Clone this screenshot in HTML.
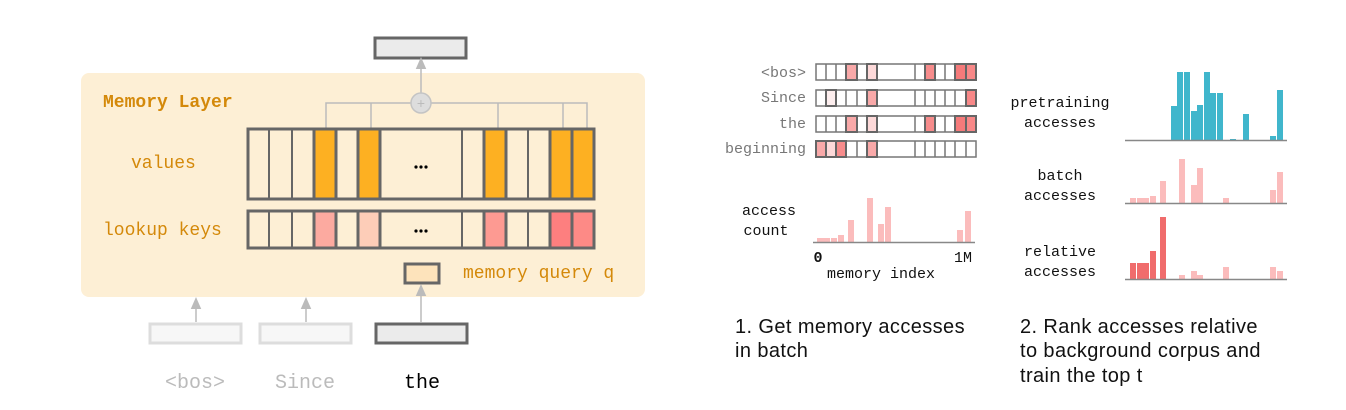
<!DOCTYPE html>
<html><head><meta charset="utf-8"><style>
html,body{margin:0;padding:0;background:#fff;width:1346px;height:410px;overflow:hidden}
svg text{font-family:"Liberation Mono","DejaVu Sans Mono",monospace}
.cap{font-family:"Liberation Sans",sans-serif!important;font-size:20px;letter-spacing:0.4px;fill:#111}
</style></head><body>
<svg width="1346" height="410" viewBox="0 0 1346 410" xmlns="http://www.w3.org/2000/svg">
<defs><marker id="ar" markerWidth="8" markerHeight="8" refX="4" refY="4" orient="auto"><path d="M0,0.5 L8,4 L0,7.5 z" fill="#bbb"/></marker></defs>
<rect x="81" y="73" width="564" height="224" rx="8" fill="#fdefd5"/>
<text x="103" y="107" font-size="18" font-weight="bold" fill="#d4890a">Memory Layer</text>
<text x="131" y="168" font-size="18" fill="#d4890a">values</text>
<text x="103" y="235" font-size="18" fill="#d4890a">lookup keys</text>
<text x="463" y="278" font-size="18" fill="#d4890a">memory query q</text>
<rect x="375" y="38" width="91" height="20" fill="#ebebeb" stroke="#666" stroke-width="3"/>
<line x1="421" y1="93" x2="421" y2="63" stroke="#bbb" stroke-width="1.5" marker-end="url(#ar)"/>
<g stroke="#bbb" stroke-width="1.5" fill="none">
<polyline points="326,129 326,103 587,103 587,129"/>
<line x1="371" y1="103" x2="371" y2="129"/>
<line x1="498" y1="103" x2="498" y2="129"/>
<line x1="563" y1="103" x2="563" y2="129"/>
</g>
<circle cx="421" cy="103" r="10" fill="#ddd" stroke="#c4c4c4" stroke-width="1.5"/>
<text x="421" y="108" font-size="14" fill="#bbb" text-anchor="middle">+</text>
<g stroke="#666" stroke-width="2">
<rect x="248" y="129" width="346" height="70" fill="none" stroke-width="3"/>
<rect x="314" y="129" width="22" height="70" fill="#fdb022" stroke-width="3"/>
<rect x="358" y="129" width="22" height="70" fill="#fdb022" stroke-width="3"/>
<rect x="484" y="129" width="22" height="70" fill="#fdb022" stroke-width="3"/>
<rect x="550" y="129" width="22" height="70" fill="#fdb022" stroke-width="3"/>
<rect x="572" y="129" width="22" height="70" fill="#fdb022" stroke-width="3"/>
<line x1="269" y1="129" x2="269" y2="199"/><line x1="292" y1="129" x2="292" y2="199"/>
<line x1="462" y1="129" x2="462" y2="199"/><line x1="528" y1="129" x2="528" y2="199"/>
</g>
<g fill="#000"><circle cx="416" cy="167" r="1.6"/><circle cx="421" cy="167" r="1.6"/><circle cx="426" cy="167" r="1.6"/>
<circle cx="416" cy="231" r="1.6"/><circle cx="421" cy="231" r="1.6"/><circle cx="426" cy="231" r="1.6"/></g>
<g stroke="#666" stroke-width="2">
<rect x="248" y="211" width="346" height="37" fill="none" stroke-width="3"/>
<rect x="314" y="211" width="22" height="37" fill="#fcaaa0" stroke-width="3"/>
<rect x="358" y="211" width="22" height="37" fill="#fdcdb8" stroke-width="3"/>
<rect x="484" y="211" width="22" height="37" fill="#fd9a92" stroke-width="3"/>
<rect x="550" y="211" width="22" height="37" fill="#fd7f7f" stroke-width="3"/>
<rect x="572" y="211" width="22" height="37" fill="#fd8a86" stroke-width="3"/>
<line x1="269" y1="211" x2="269" y2="248"/><line x1="292" y1="211" x2="292" y2="248"/>
<line x1="462" y1="211" x2="462" y2="248"/><line x1="528" y1="211" x2="528" y2="248"/>
</g>
<rect x="405" y="264" width="34" height="19" fill="#fde3bb" stroke="#666" stroke-width="3"/>
<line x1="421" y1="322" x2="421" y2="290" stroke="#bbb" stroke-width="1.5" marker-end="url(#ar)"/>
<line x1="196" y1="322" x2="196" y2="303" stroke="#bbb" stroke-width="1.5" marker-end="url(#ar)"/>
<line x1="306" y1="322" x2="306" y2="303" stroke="#bbb" stroke-width="1.5" marker-end="url(#ar)"/>
<rect x="150" y="324" width="91" height="19" fill="#f7f7f7" stroke="#ddd" stroke-width="3"/>
<rect x="260" y="324" width="91" height="19" fill="#f7f7f7" stroke="#ddd" stroke-width="3"/>
<rect x="376" y="324" width="91" height="19" fill="#ebebeb" stroke="#666" stroke-width="3"/>
<text x="195" y="388" font-size="20" fill="#bbb" text-anchor="middle">&lt;bos&gt;</text>
<text x="305" y="388" font-size="20" fill="#bbb" text-anchor="middle">Since</text>
<text x="422" y="388" font-size="20" fill="#000" text-anchor="middle">the</text>
<g font-size="15" fill="#777" text-anchor="end">
<text x="806" y="77">&lt;bos&gt;</text><text x="806" y="102">Since</text><text x="806" y="128">the</text><text x="806" y="153">beginning</text>
</g>
<g stroke="#777" stroke-width="1.5" fill="none">
<rect x="816" y="64" width="160" height="16"/><rect x="816" y="90" width="160" height="16"/><rect x="816" y="116" width="160" height="16"/><rect x="816" y="141" width="160" height="16"/>
<path d="M826,64v16M836,64v16M846,64v16M857,64v16M867,64v16M877,64v16M915,64v16M925,64v16M935,64v16M945,64v16M955,64v16M966,64v16"/>
<path d="M826,90v16M836,90v16M846,90v16M857,90v16M867,90v16M877,90v16M915,90v16M925,90v16M935,90v16M945,90v16M955,90v16M966,90v16"/>
<path d="M826,116v16M836,116v16M846,116v16M857,116v16M867,116v16M877,116v16M915,116v16M925,116v16M935,116v16M945,116v16M955,116v16M966,116v16"/>
<path d="M826,141v16M836,141v16M846,141v16M857,141v16M867,141v16M877,141v16M915,141v16M925,141v16M935,141v16M945,141v16M955,141v16M966,141v16"/>
</g>
<g stroke="#666" stroke-width="2">
<rect x="846" y="64" width="11" height="16" fill="#f9a9a9"/><rect x="867" y="64" width="10" height="16" fill="#fdd9d9"/><rect x="925" y="64" width="10" height="16" fill="#f78c8c"/><rect x="955" y="64" width="11" height="16" fill="#f57a7a"/><rect x="966" y="64" width="10" height="16" fill="#f88888"/>
<rect x="826" y="90" width="10" height="16" fill="#fdeeee"/><rect x="867" y="90" width="10" height="16" fill="#f9a9a9"/><rect x="966" y="90" width="10" height="16" fill="#f88888"/>
<rect x="846" y="116" width="11" height="16" fill="#f9a9a9"/><rect x="867" y="116" width="10" height="16" fill="#fdd9d9"/><rect x="925" y="116" width="10" height="16" fill="#f78c8c"/><rect x="955" y="116" width="11" height="16" fill="#f57a7a"/><rect x="966" y="116" width="10" height="16" fill="#f88888"/>
<rect x="816" y="141" width="10" height="16" fill="#f9a9a9"/><rect x="826" y="141" width="10" height="16" fill="#fdd9d9"/><rect x="836" y="141" width="10" height="16" fill="#f78c8c"/><rect x="867" y="141" width="10" height="16" fill="#f9a9a9"/>
</g>
<g fill="#fbbcbc">
<rect x="817" y="238" width="13" height="4"/><rect x="831" y="238" width="6" height="4"/><rect x="838" y="235" width="6" height="7"/><rect x="848" y="220" width="6" height="22"/><rect x="867" y="198" width="6" height="44"/><rect x="878" y="224" width="6" height="18"/><rect x="885" y="207" width="6" height="35"/><rect x="957" y="230" width="6" height="12"/><rect x="965" y="211" width="6" height="31"/>
</g>
<line x1="813" y1="242.5" x2="975" y2="242.5" stroke="#888" stroke-width="1.5"/>
<g font-size="15" fill="#111">
<text x="769" y="215" text-anchor="middle">access</text><text x="766" y="235" text-anchor="middle">count</text>
<text x="818" y="262" text-anchor="middle" font-weight="bold">0</text><text x="963" y="262" text-anchor="middle">1M</text>
<text x="881" y="278" text-anchor="middle">memory index</text>
</g>
<g fill="#40b6cc">
<rect x="1171" y="106" width="6" height="34"/><rect x="1177" y="72" width="6" height="68"/><rect x="1184" y="72" width="6" height="68"/><rect x="1191" y="111" width="6" height="29"/><rect x="1197" y="105" width="6" height="35"/><rect x="1204" y="72" width="6" height="68"/><rect x="1210" y="93" width="6" height="47"/><rect x="1217" y="93" width="6" height="47"/><rect x="1230" y="139" width="6" height="1"/><rect x="1243" y="114" width="6" height="26"/><rect x="1270" y="136" width="6" height="4"/><rect x="1277" y="90" width="6" height="50"/>
</g>
<g fill="#fbbcbc">
<rect x="1130" y="198" width="6" height="5"/><rect x="1137" y="198" width="12" height="5"/><rect x="1150" y="196" width="6" height="7"/><rect x="1160" y="181" width="6" height="22"/><rect x="1179" y="159" width="6" height="44"/><rect x="1191" y="185" width="6" height="18"/><rect x="1197" y="168" width="6" height="35"/><rect x="1223" y="198" width="6" height="5"/><rect x="1270" y="190" width="6" height="13"/><rect x="1277" y="172" width="6" height="31"/>
<rect x="1179" y="275" width="6" height="4"/><rect x="1191" y="271" width="6" height="8"/><rect x="1197" y="275" width="6" height="4"/><rect x="1223" y="267" width="6" height="12"/><rect x="1270" y="267" width="6" height="12"/><rect x="1277" y="271" width="6" height="8"/>
</g>
<g fill="#f06c6c">
<rect x="1130" y="263" width="6" height="16"/><rect x="1137" y="263" width="12" height="16"/><rect x="1150" y="251" width="6" height="28"/><rect x="1160" y="217" width="6" height="62"/>
</g>
<g stroke="#888" stroke-width="1.5">
<line x1="1125" y1="140.5" x2="1287" y2="140.5"/><line x1="1125" y1="203.5" x2="1287" y2="203.5"/><line x1="1125" y1="279.5" x2="1287" y2="279.5"/>
</g>
<g font-size="15" fill="#111" text-anchor="middle">
<text x="1060" y="107">pretraining</text><text x="1060" y="127">accesses</text>
<text x="1060" y="180">batch</text><text x="1060" y="200">accesses</text>
<text x="1060" y="256">relative</text><text x="1060" y="276">accesses</text>
</g>
<text class="cap" x="735" y="333">1. Get memory accesses</text>
<text class="cap" x="735" y="357">in batch</text>
<text class="cap" x="1020" y="333">2. Rank accesses relative</text>
<text class="cap" x="1020" y="357">to background corpus and</text>
<text class="cap" x="1020" y="382">train the top t</text>
</svg>
</body></html>
